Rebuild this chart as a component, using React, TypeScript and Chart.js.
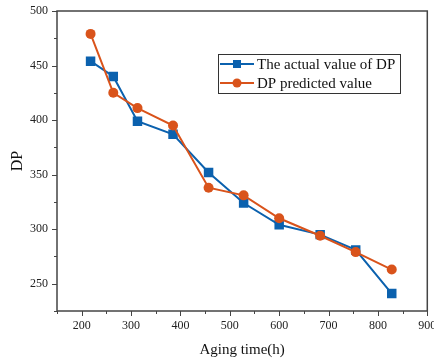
import { useEffect, useRef } from 'react';
import { Chart, registerables } from 'chart.js';
Chart.register(...registerables);

const agingTime = [218, 264, 313, 385, 457, 528, 600, 683, 755, 828];
const actualDP = [454, 440, 399, 387, 352, 324, 304, 295, 281, 241];
const predictedDP = [479, 425, 411, 395, 338, 331, 310, 294, 279, 263];
const xTicks = [200, 300, 400, 500, 600, 700, 800, 900];
const yTicks = [250, 300, 350, 400, 450, 500];
const seriesLabels = ['The actual value of DP', 'DP predicted value'];

const BLUE = '#0b61ae';
const ORANGE = '#d9531b';
const AXIS = '#444';
const SERIF = '"Liberation Serif", "Times New Roman", serif';

const framePlugin = {
  id: 'frameAndLegend',
  beforeDatasetsDraw(chart: any) {
    const { ctx, chartArea: a, scales } = chart;
    const xs = scales.x;
    const ys = scales.y;
    ctx.save();
    ctx.strokeStyle = AXIS;
    ctx.lineWidth = 1.5;
    ctx.strokeRect(a.left, a.top, a.right - a.left, a.bottom - a.top);
    ctx.lineWidth = 1;
    ctx.beginPath();
    for (let v = xs.min; v <= xs.max; v += 50) {
      const p = Math.round(xs.getPixelForValue(v)) + 0.5;
      const len = v % 100 === 0 ? 5 : 3;
      ctx.moveTo(p, a.bottom);
      ctx.lineTo(p, a.bottom + len);
    }
    for (let v = ys.min; v <= ys.max; v += 25) {
      const p = Math.round(ys.getPixelForValue(v)) + 0.5;
      const len = v % 50 === 0 ? 5 : 3;
      ctx.moveTo(a.left, p);
      ctx.lineTo(a.left - len, p);
    }
    ctx.stroke();
    ctx.restore();
  },
  afterDatasetsDraw(chart: any) {
    const { ctx } = chart;
    const bx = 218, by = 54, bw = 182, bh = 39;
    ctx.save();
    ctx.fillStyle = '#fff';
    ctx.fillRect(bx, by, bw, bh);
    ctx.strokeStyle = '#333';
    ctx.lineWidth = 1;
    ctx.strokeRect(bx + 0.5, by + 0.5, bw, bh);
    const rows = [64, 83];
    chart.data.datasets.forEach((ds: any, i: number) => {
      const y = rows[i];
      ctx.strokeStyle = ds.borderColor;
      ctx.lineWidth = 2;
      ctx.beginPath();
      ctx.moveTo(220, y);
      ctx.lineTo(254, y);
      ctx.stroke();
      ctx.fillStyle = ds.backgroundColor;
      if (ds.pointStyle === 'rect') {
        ctx.fillRect(233, y - 4, 8, 8);
      } else {
        ctx.beginPath();
        ctx.arc(237, y, 4.5, 0, Math.PI * 2);
        ctx.fill();
      }
      ctx.fillStyle = '#111';
      ctx.font = `15px ${SERIF}`;
      ctx.textBaseline = 'middle';
      ctx.textAlign = 'left';
      ctx.fillText(ds.label, 257, y + 1);
    });
    ctx.restore();
  },
};

export default function App() {
  const ref = useRef<HTMLCanvasElement>(null);
  useEffect(() => {
    if (!ref.current) return;
    const chart = new Chart(ref.current, {
      type: 'line',
      data: {
        datasets: [
          {
            label: seriesLabels[0],
            data: agingTime.map((x, i) => ({ x, y: actualDP[i] })),
            borderColor: BLUE,
            backgroundColor: BLUE,
            borderWidth: 2,
            pointStyle: 'rect',
            pointRadius: 6.7,
            pointBorderWidth: 0,
            order: 2,
          },
          {
            label: seriesLabels[1],
            data: agingTime.map((x, i) => ({ x, y: predictedDP[i] })),
            borderColor: ORANGE,
            backgroundColor: ORANGE,
            borderWidth: 2,
            pointStyle: 'circle',
            pointRadius: 5,
            pointBorderWidth: 0,
            order: 1,
          },
        ],
      },
      options: {
        animation: false,
        responsive: false,
        devicePixelRatio: 1,
        layout: { padding: { top: 11, right: 5, left: 0, bottom: 0 } },
        plugins: { legend: { display: false }, tooltip: { enabled: false } },
        scales: {
          x: {
            type: 'linear',
            min: 150,
            max: 900,
            grid: { display: false, drawTicks: false },
            border: { display: false },
            afterBuildTicks: (s: any) => {
              s.ticks = xTicks.map((v) => ({ value: v }));
            },
            afterFit: (s: any) => {
              s.height = 52;
              s.paddingLeft = 0;
              s.paddingRight = 0;
            },
            ticks: {
              padding: 8,
              maxRotation: 0,
              autoSkip: false,
              color: '#222',
              font: { family: SERIF, size: 12 },
            },
            title: {
              display: true,
              text: 'Aging time(h)',
              color: '#111',
              font: { family: SERIF, size: 15 },
              padding: { top: 0, bottom: 4 },
            },
          },
          y: {
            type: 'linear',
            min: 225,
            max: 500,
            grid: { display: false, drawTicks: false },
            border: { display: false },
            afterBuildTicks: (s: any) => {
              s.ticks = yTicks.map((v) => ({ value: v }));
            },
            afterFit: (s: any) => {
              s.width = 57;
              s.paddingTop = 0;
              s.paddingBottom = 0;
            },
            ticks: {
              padding: 9,
              autoSkip: false,
              color: '#222',
              font: { family: SERIF, size: 12 },
            },
            title: {
              display: true,
              text: 'DP',
              color: '#111',
              font: { family: SERIF, size: 16 },
              padding: { top: 8, bottom: 0 },
            },
          },
        },
      },
      plugins: [framePlugin],
    });
    return () => chart.destroy();
  }, []);
  return (
    <div style={{ position: 'fixed', left: 0, top: 0, width: 434, height: 363, background: '#fff' }}>
      <canvas ref={ref} width={434} height={363} style={{ display: 'block' }} />
    </div>
  );
}
